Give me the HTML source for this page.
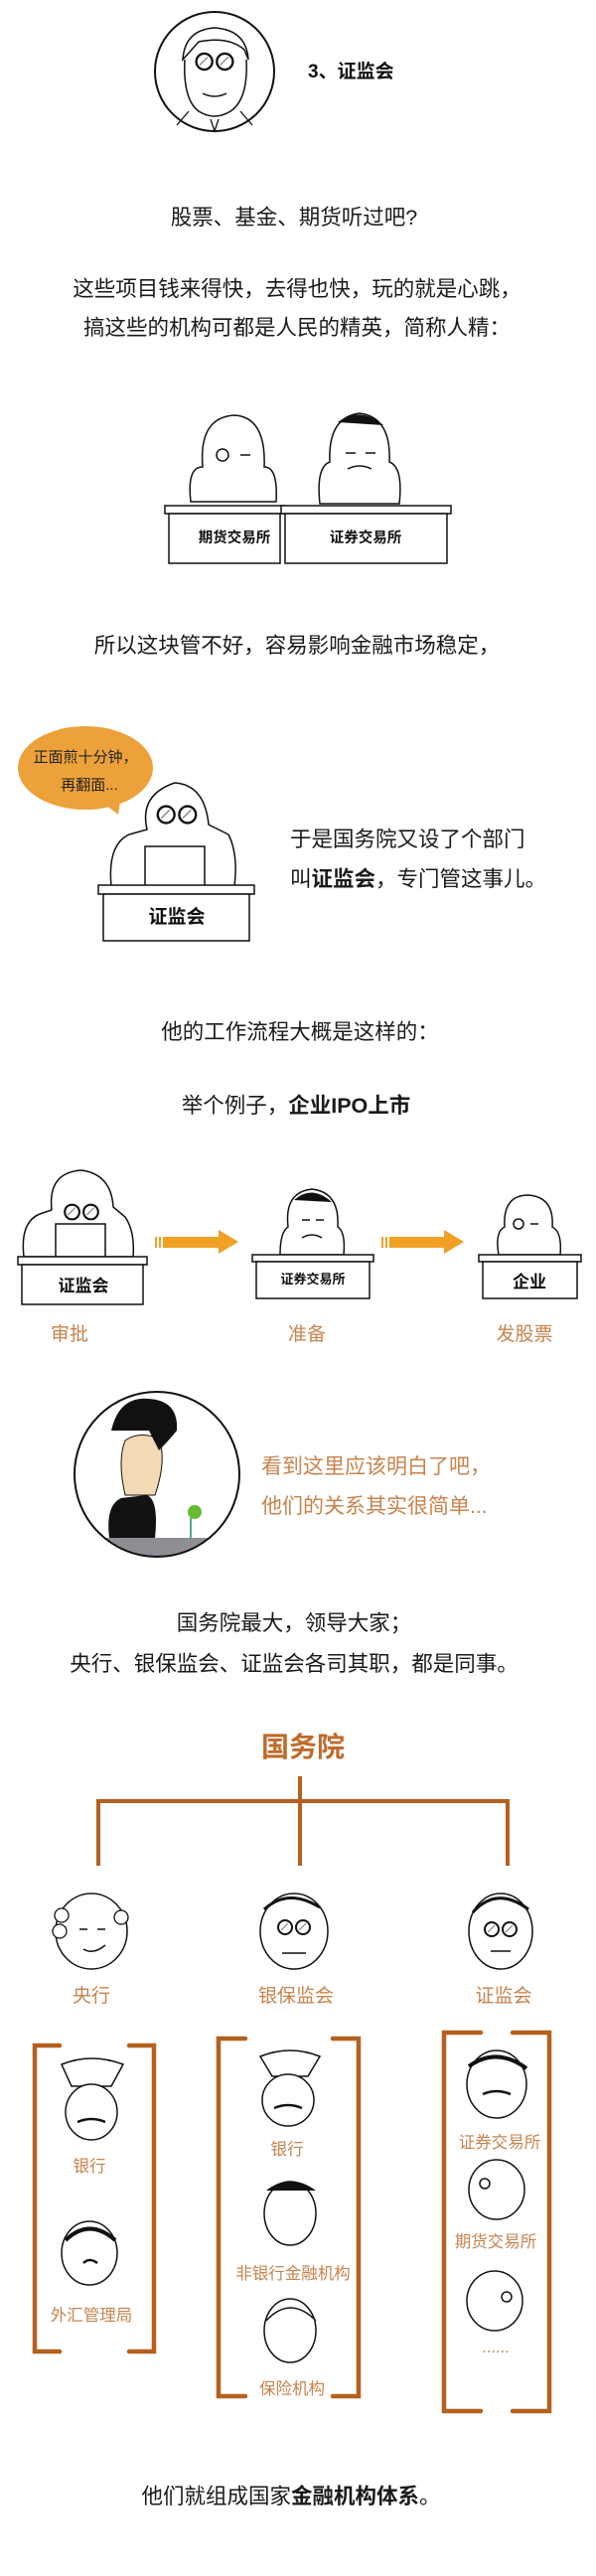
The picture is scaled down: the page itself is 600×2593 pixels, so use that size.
<!DOCTYPE html>
<html><head><meta charset="utf-8"><style>
html,body{margin:0;padding:0;background:#fff;}
svg{display:block;}
text{font-family:"Liberation Sans","Noto Sans CJK SC",sans-serif;}
</style></head><body>
<svg width="600" height="2593" viewBox="0 0 600 2593" xmlns="http://www.w3.org/2000/svg">
<defs>
<g id="glasses"><circle cx="-9" cy="0" r="7" fill="#fff" stroke="#111" stroke-width="2"/><circle cx="9" cy="0" r="7" fill="#fff" stroke="#111" stroke-width="2"/><line x1="-13" y1="3" x2="-6" y2="-4" stroke="#777"/><line x1="5" y1="3" x2="12" y2="-4" stroke="#777"/></g>
</defs>
<rect width="600" height="2593" fill="#fff"/>

<circle cx="216" cy="72" r="60" fill="#fff" stroke="#111" stroke-width="2"/>
<path d="M184 60 Q186 30 216 28 Q248 30 250 60 L246 50 Q230 36 200 42 Z" fill="#fff" stroke="#111" stroke-width="1.5"/>
<path d="M186 60 Q184 100 200 112 Q216 122 232 112 Q250 100 248 60" fill="none" stroke="#111" stroke-width="1.5"/>
<use href="#glasses" transform="translate(216,62) scale(1.15)"/>
<path d="M204 94 Q216 100 228 94" fill="none" stroke="#111" stroke-width="1.5"/>
<path d="M190 112 L178 126 M242 112 L254 126 M212 120 L216 132 L220 120" fill="none" stroke="#111" stroke-width="1.3"/>
<text x="310" y="78" font-size="19" font-weight="bold" fill="#111">3、证监会</text>

<g font-size="21.5" fill="#1a1a1a" text-anchor="middle">
<text x="296" y="226">股票、基金、期货听过吧?</text>
<text x="299" y="298">这些项目钱来得快，去得也快，玩的就是心跳，</text>
<text x="299" y="337">搞这些的机构可都是人民的精英，简称人精：</text>
</g>

<g fill="#fff" stroke="#111" stroke-width="1.5">
<path d="M192 505 Q188 470 204 470 Q200 420 236 418 Q268 420 266 470 Q280 470 278 505 Z"/>
<path d="M322 507 Q318 470 332 465 Q330 420 362 416 Q394 420 392 465 Q406 470 402 507 Z"/>
<rect x="166" y="509" width="120" height="8"/>
<rect x="170" y="517" width="112" height="50"/>
<rect x="283" y="509" width="171" height="8"/>
<rect x="287" y="517" width="163" height="50"/>
</g>
<path d="M340 425 Q362 408 386 428" fill="#111"/>
<circle cx="224" cy="458" r="6" fill="#fff" stroke="#111" stroke-width="1.5"/>
<path d="M242 458 h10 M348 456 h10 M368 456 h10 M350 472 Q362 466 374 472" stroke="#111" stroke-width="1.5" fill="none"/>
<g font-size="14.5" font-weight="bold" fill="#111" text-anchor="middle">
<text x="236" y="546">期货交易所</text>
<text x="368" y="546">证券交易所</text>
</g>

<text x="299" y="657" font-size="21.5" fill="#1a1a1a" text-anchor="middle">所以这块管不好，容易影响金融市场稳定，</text>

<ellipse cx="86" cy="773" rx="68" ry="42" fill="#eda13a"/>
<path d="M100 805 L119 820 L122 800 Z" fill="#eda13a"/>
<g font-size="15" fill="#222" text-anchor="middle">
<text x="86" y="767">正面煎十分钟，</text>
<text x="90" y="795">再翻面...</text>
</g>
<g fill="#fff" stroke="#111" stroke-width="1.5">
<path d="M112 892 Q108 850 130 840 L148 835 Q140 800 176 788 Q206 790 210 830 L230 840 Q240 860 236 892 Z"/>
<rect x="146" y="852" width="60" height="40"/>
<rect x="99" y="891" width="157" height="9"/>
<rect x="104" y="900" width="147" height="47"/>
</g>
<use href="#glasses" transform="translate(178,820) scale(1.2)"/>
<text x="178" y="929" font-size="19" font-weight="bold" fill="#111" text-anchor="middle">证监会</text>
<g font-size="21.5" fill="#1a1a1a">
<text x="292" y="852">于是国务院又设了个部门</text>
<text x="292" y="892">叫<tspan font-weight="bold">证监会</tspan>，专门管这事儿。</text>
</g>

<g font-size="21.5" fill="#1a1a1a" text-anchor="middle">
<text x="302" y="1046">他的工作流程大概是这样的：</text>
<text x="298" y="1120">举个例子，<tspan font-weight="bold">企业IPO上市</tspan></text>
</g>

<g fill="#fff" stroke="#111" stroke-width="1.5">
<path d="M24 1265 Q20 1230 40 1222 L52 1218 Q48 1180 82 1178 Q112 1182 114 1215 L126 1225 Q136 1240 134 1265 Z"/>
<rect x="56" y="1232" width="50" height="33"/>
<rect x="18" y="1265" width="130" height="8"/>
<rect x="22" y="1273" width="122" height="40"/>
<path d="M282 1263 Q282 1240 290 1235 Q286 1200 314 1197 Q342 1200 340 1235 Q348 1240 346 1263 Z"/>
<rect x="254" y="1263" width="122" height="7"/>
<rect x="258" y="1270" width="114" height="37"/>
<path d="M502 1263 Q498 1240 508 1235 Q506 1203 532 1203 Q558 1205 556 1235 Q566 1240 564 1263 Z"/>
<rect x="482" y="1263" width="103" height="7"/>
<rect x="486" y="1270" width="95" height="37"/>
</g>
<path d="M296 1208 Q314 1192 334 1210" fill="#111"/>
<use href="#glasses" transform="translate(82,1220) scale(1.05)"/>
<circle cx="522" cy="1232" r="5" fill="#fff" stroke="#111" stroke-width="1.5"/>
<path d="M534 1232 h8 M304 1228 h8 M318 1228 h8 M304 1246 Q314 1240 324 1246" stroke="#111" stroke-width="1.5" fill="none"/>
<g font-weight="bold" fill="#111" text-anchor="middle">
<text x="84" y="1300" font-size="17">证监会</text>
<text x="315" y="1292" font-size="13">证券交易所</text>
<text x="533" y="1296" font-size="17">企业</text>
</g>
<g fill="#f0a024">
<rect x="156" y="1245" width="2" height="11"/><rect x="160" y="1245" width="2" height="11"/><rect x="164" y="1245" width="58" height="11"/>
<path d="M220 1238 L240 1250 L220 1262 Z"/>
<rect x="384" y="1245" width="2" height="11"/><rect x="388" y="1245" width="2" height="11"/><rect x="392" y="1245" width="57" height="11"/>
<path d="M447 1238 L467 1250 L447 1262 Z"/>
</g>
<g font-size="19" fill="#c8834d" text-anchor="middle">
<text x="70" y="1349">审批</text>
<text x="309" y="1349">准备</text>
<text x="528" y="1349">发股票</text>
</g>

<clipPath id="cc"><circle cx="158" cy="1484" r="83"/></clipPath>
<circle cx="158" cy="1484" r="83" fill="#fff"/>
<g clip-path="url(#cc)">
<rect x="60" y="1548" width="200" height="40" fill="#8d8f94"/>
<path d="M110 1548 Q106 1515 122 1508 L148 1505 Q160 1510 156 1548 Z" fill="#111"/>
<path d="M126 1505 Q118 1470 126 1450 Q140 1440 160 1448 Q168 1470 156 1505 Z" fill="#f4d9b5" stroke="#111"/>
<path d="M112 1440 Q120 1405 150 1408 Q180 1410 178 1440 Q170 1450 160 1460 L150 1440 Z" fill="#111"/>
<path d="M192 1548 v-20" stroke="#5a8" stroke-width="2"/>
<circle cx="196" cy="1522" r="7" fill="#6b3"/>
</g>
<circle cx="158" cy="1484" r="83" fill="none" stroke="#111" stroke-width="2"/>
<g font-size="21" fill="#c8834d">
<text x="263" y="1483">看到这里应该明白了吧，</text>
<text x="263" y="1523">他们的关系其实很简单...</text>
</g>

<g font-size="21.5" fill="#1a1a1a" text-anchor="middle">
<text x="296" y="1641">国务院最大，领导大家；</text>
<text x="296" y="1682">央行、银保监会、证监会各司其职，都是同事。</text>
</g>

<text x="305" y="1768" font-size="28" font-weight="bold" fill="#c06a2a" text-anchor="middle">国务院</text>
<g stroke="#b5601f" stroke-width="4" fill="none">
<line x1="302" y1="1788" x2="302" y2="1878"/>
<line x1="97" y1="1813" x2="513" y2="1813"/>
<line x1="99" y1="1813" x2="99" y2="1878"/>
<line x1="511" y1="1813" x2="511" y2="1878"/>
</g>

<g fill="#fff" stroke="#111" stroke-width="1.5">
<ellipse cx="92" cy="1944" rx="36" ry="38"/>
<ellipse cx="296" cy="1944" rx="34" ry="38"/>
<ellipse cx="504" cy="1944" rx="32" ry="38"/>
</g>
<g fill="#fff" stroke="#111" stroke-width="1.3">
<circle cx="62" cy="1928" r="7"/><circle cx="60" cy="1944" r="7"/><circle cx="122" cy="1930" r="7"/>
</g>
<path d="M80 1942 h8 M98 1942 h8 M84 1962 Q94 1968 106 1958" stroke="#111" stroke-width="1.5" fill="none"/>
<path d="M266 1922 Q290 1900 322 1920" stroke="#111" stroke-width="3" fill="none"/>
<use href="#glasses" transform="translate(296,1940)"/>
<path d="M284 1966 h24" stroke="#111" stroke-width="1.5"/>
<path d="M476 1925 Q500 1898 532 1922" stroke="#111" stroke-width="3" fill="none"/>
<use href="#glasses" transform="translate(504,1942)"/>
<path d="M494 1964 h20" stroke="#111" stroke-width="1.5"/>
<g font-size="19" fill="#c8834d" text-anchor="middle">
<text x="92" y="2015">央行</text>
<text x="298" y="2015">银保监会</text>
<text x="507" y="2015">证监会</text>
</g>

<g stroke="#b5601f" stroke-width="4.5" fill="none" stroke-linecap="round">
<path d="M60 2059 H35 V2367 H60"/><path d="M130 2059 H155 V2367 H130"/>
<path d="M247 2052 H220 V2412 H247"/><path d="M335 2052 H361 V2412 H335"/>
<path d="M484 2046 H447 V2427 H484"/><path d="M516 2046 H553 V2427 H516"/>
</g>

<g fill="#fff" stroke="#111" stroke-width="1.5">
<path d="M62 2078 Q92 2066 124 2078 L112 2100 H72 Z"/>
<ellipse cx="92" cy="2126" rx="26" ry="28"/>
<ellipse cx="90" cy="2268" rx="28" ry="32"/>
<path d="M262 2070 Q292 2058 322 2070 L310 2090 H274 Z"/>
<ellipse cx="290" cy="2114" rx="26" ry="26"/>
<ellipse cx="292" cy="2228" rx="26" ry="32"/>
<ellipse cx="292" cy="2346" rx="26" ry="32"/>
<ellipse cx="500" cy="2098" rx="30" ry="34"/>
<ellipse cx="500" cy="2204" rx="28" ry="30"/>
<ellipse cx="498" cy="2316" rx="28" ry="30"/>
</g>
<path d="M268 2205 Q292 2186 318 2205 Z" fill="#111"/>
<path d="M66 2255 Q90 2232 116 2255" stroke="#111" stroke-width="4" fill="none"/>
<path d="M472 2080 Q500 2060 530 2082" stroke="#111" stroke-width="4" fill="none"/>
<path d="M268 2336 Q292 2310 318 2336" stroke="#111" stroke-width="1.5" fill="#fff"/>
<path d="M78 2136 Q92 2130 106 2136 M276 2122 Q290 2116 304 2122 M84 2278 Q90 2272 98 2278 M486 2108 Q500 2102 514 2108" stroke="#111" stroke-width="2.5" fill="none"/>
<circle cx="488" cy="2198" r="5" fill="#fff" stroke="#111" stroke-width="1.5"/>
<circle cx="510" cy="2312" r="5" fill="#fff" stroke="#111" stroke-width="1.5"/>
<g font-size="16.5" fill="#c8834d" text-anchor="middle">
<text x="90" y="2186">银行</text>
<text x="92" y="2336">外汇管理局</text>
<text x="289" y="2169">银行</text>
<text x="295" y="2294">非银行金融机构</text>
<text x="294" y="2410">保险机构</text>
<text x="503" y="2162">证券交易所</text>
<text x="499" y="2262">期货交易所</text>
<text x="499" y="2368">......</text>
</g>

<text x="293" y="2520" font-size="21.5" fill="#1a1a1a" text-anchor="middle">他们就组成国家<tspan font-weight="bold">金融机构体系</tspan>。</text>
</svg>
</body></html>
